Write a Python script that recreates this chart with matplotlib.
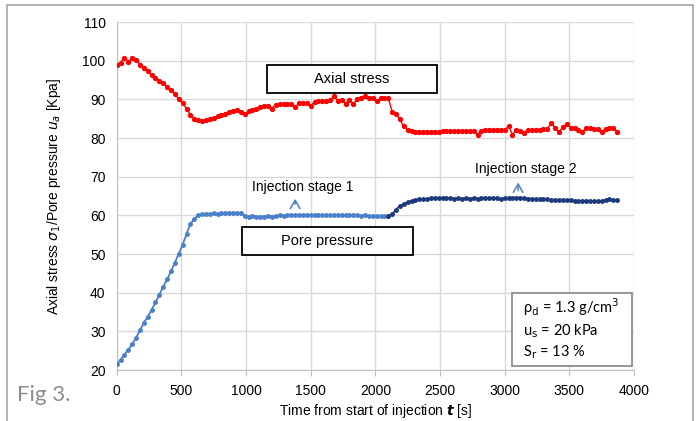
import numpy as np
import matplotlib
matplotlib.use('Agg')
import matplotlib.pyplot as plt
from matplotlib.patches import Rectangle

plt.rcParams['font.family'] = ['Liberation Sans', 'DejaVu Sans']

# time grid [s]
t = np.arange(0, 3871, 30)

# axial stress [kPa]
axial = [99.0, 99.5, 100.8, 99.7, 100.6, 100.3, 99.0, 98.1, 97.3, 96.3,
         95.6, 94.8, 94.1, 93.3, 92.3, 91.3, 90.0, 89.0, 87.6, 86.0,
         85.0, 84.6, 84.4, 84.7, 84.9, 85.3, 85.6, 85.9, 86.2, 86.6,
         86.9, 87.2, 86.8, 86.1, 86.9, 87.3, 87.6, 87.9, 88.2, 88.4,
         87.6, 88.6, 88.7, 88.8, 88.8, 88.9, 88.0, 89.0, 89.1, 89.1,
         88.4, 89.3, 89.5, 89.6, 89.7, 89.9, 90.8, 89.7, 89.9, 88.8,
         89.8, 88.9, 90.0, 90.4, 90.9, 90.3, 90.3, 89.5, 90.3, 90.4,
         90.4, 86.8, 86.2, 84.8, 83.0, 82.1, 81.7, 81.6, 81.5, 81.5,
         81.5, 81.6, 81.6, 81.6, 81.7, 81.7, 81.7, 81.7, 81.8, 81.8,
         81.8, 81.9, 81.8, 80.8, 81.9, 82.0, 82.0, 82.0, 82.0, 82.0,
         82.0, 83.1, 80.9, 82.0, 81.9, 81.2, 82.1, 82.1, 82.2, 82.2,
         82.3, 82.4, 83.8, 82.6, 81.6, 82.8, 83.6, 82.7, 82.5, 82.2,
         81.6, 82.5, 82.5, 82.4, 82.4, 81.6, 82.4, 82.5, 82.5, 81.6]

# pore pressure [kPa]
pore = [21.6, 22.6, 24.0, 25.3, 26.7, 28.3, 30.3, 32.2, 33.8, 35.5,
        37.5, 39.5, 41.5, 43.5, 45.5, 47.8, 50.1, 52.4, 55.2, 57.8,
        59.1, 60.0, 60.3, 60.4, 60.4, 60.5, 60.4, 60.5, 60.6, 60.7,
        60.6, 60.7, 60.5, 59.8, 59.7, 59.8, 59.7, 59.6, 59.7, 59.8,
        59.7, 59.8, 60.0, 59.9, 60.0, 60.1, 60.0, 60.1, 60.0, 60.0,
        60.1, 60.0, 60.1, 60.1, 60.0, 60.1, 60.0, 60.1, 60.0, 60.1,
        60.1, 60.0, 60.0, 59.9, 60.0, 59.8, 59.9, 59.8, 59.8, 59.8,
        59.8, 60.3, 61.5, 62.4, 63.0, 63.4, 63.7, 63.9, 64.1, 64.2,
        64.3, 64.4, 64.5, 64.5, 64.4, 64.5, 64.4, 64.3, 64.4, 64.3,
        64.4, 64.3, 64.4, 64.3, 64.4, 64.5, 64.4, 64.4, 64.4, 64.3,
        64.4, 64.4, 64.5, 64.6, 64.6, 64.4, 64.3, 64.3, 64.2, 64.2,
        64.1, 64.1, 64.0, 64.0, 63.9, 64.0, 63.9, 63.9, 63.8, 63.7,
        63.7, 63.8, 63.7, 63.6, 63.6, 63.7, 64.0, 64.1, 64.0, 63.9]

stage2_start = 2100  # start of injection stage 2 [s]

fig = plt.figure(figsize=(6.97, 4.21), dpi=100)
ax = fig.add_axes([0.1674, 0.1211, 0.7422, 0.8266])

# outer frame
fig.patches.append(Rectangle((7/697, -0.05), 686/697, 1.05 - 5/421, transform=fig.transFigure,
                             fill=False, edgecolor='#a6a6a6', linewidth=1.2))

s1 = t <= stage2_start
s2 = t >= stage2_start
pore = np.array(pore)
ax.plot(t, axial, '-o', color='#ff0000', lw=1, ms=2.8, mec='#ff0000', zorder=3)
ax.plot(t[s1], pore[s1], '-o', color='#4a7fcb', lw=1.3, ms=2.5, zorder=3)
ax.plot(t[s2], pore[s2], '-o', color='#1b3a7c', lw=1.3, ms=2.5, zorder=3)

ax.set_xlim(0, 4000)
ax.set_ylim(20, 110)
ax.set_xticks(np.arange(0, 4001, 500))
ax.set_yticks(np.arange(20, 111, 10))
ax.grid(True, color='#d9d9d9', lw=1)
ax.set_axisbelow(True)
for s in ['top', 'right']:
    ax.spines[s].set_visible(False)
for s in ['left', 'bottom']:
    ax.spines[s].set_color('#bfbfbf')
ax.tick_params(axis='x', length=4, color='#bfbfbf', labelsize=10, pad=6)
ax.tick_params(axis='y', length=0, labelsize=10, pad=8)

ax.set_xlabel('Time from start of injection $\\boldsymbol{t}$ [s]', fontsize=10, labelpad=3)
ax.set_ylabel('Axial stress $\\boldsymbol{\\sigma_1}$/Pore pressure $u_a$ [Kpa]', fontsize=10, labelpad=14)

# label boxes
ax.add_patch(Rectangle((1162, 91.6), 1315, 7.3, fc='white', ec='black', lw=1.3, zorder=5))
ax.text(1820, 95.25, 'Axial stress', ha='center', va='center', fontsize=10.5, zorder=6)
ax.add_patch(Rectangle((968, 49.7), 1326, 7.3, fc='white', ec='black', lw=1.3, zorder=5))
ax.text(1630, 53.4, 'Pore pressure', ha='center', va='center', fontsize=10.5, zorder=6)

arrow = dict(arrowstyle='->,head_length=0.6,head_width=0.35', color='#4a7fcb', lw=1.1)
ax.text(1435, 67.3, 'Injection stage 1', ha='center', va='center', fontsize=10)
ax.annotate('', xy=(1380, 65.0), xytext=(1380, 62.2), arrowprops=arrow)
ax.text(3167, 72.0, 'Injection stage 2', ha='center', va='center', fontsize=10)
ax.annotate('', xy=(3104, 69.2), xytext=(3104, 65.6), arrowprops=arrow)

# parameter box
ax.add_patch(Rectangle((3057, 21.0), 928, 18.9, fc='white', ec='#8c8c8c', lw=1.3, zorder=5))
ax.text(3142, 30.6, 'ρ$_{\\rm d}$ = 1.3 g/cm$^{\\rm 3}$\nu$_{\\rm s}$ = 20 kPa\nS$_{\\rm r}$ = 13 %',
        ha='left', va='center', fontsize=10.5, linespacing=1.3, family=['Lato', 'DejaVu Sans'],
        zorder=6)

fig.text(17/697, 1 - 395/421, 'Fig 3.', fontsize=16, color='#8c8c8c', va='center',
         family=['Lato', 'DejaVu Sans'])

fig.savefig('out.png', dpi=100)
